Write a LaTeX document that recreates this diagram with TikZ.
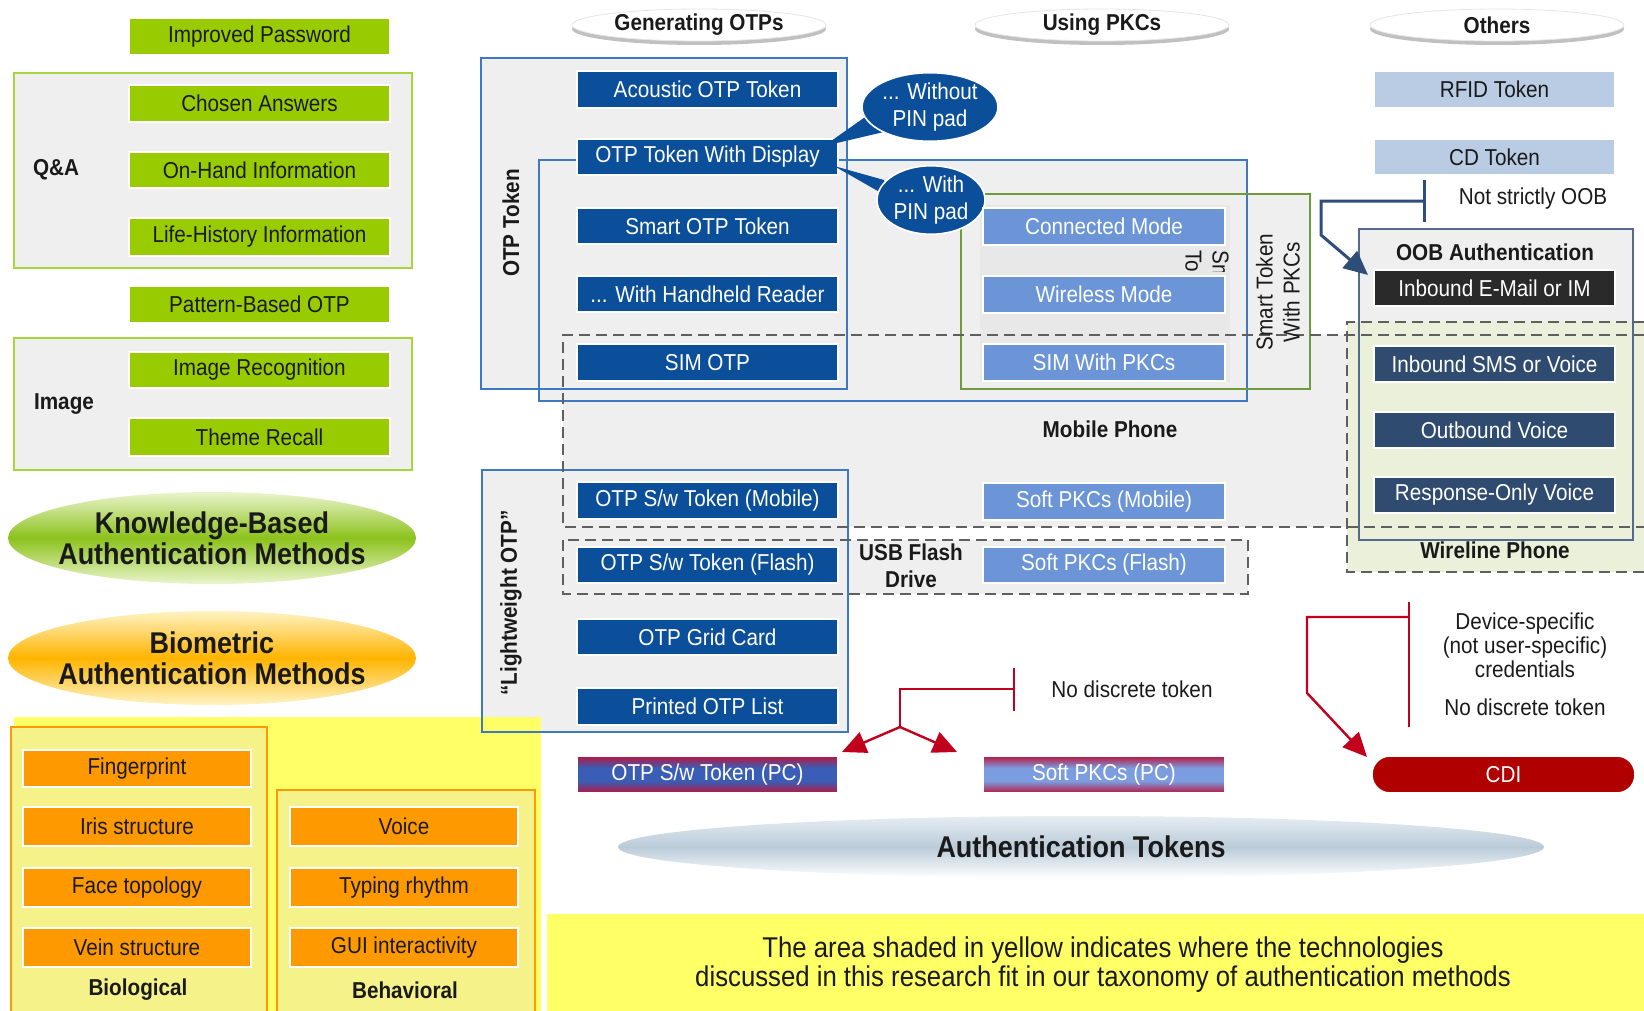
\documentclass[tikz,border=0pt]{standalone}
\usepackage{fontspec}
\setmainfont{Liberation Sans}[FakeStretch=0.9]
\usetikzlibrary{shapes.geometric,arrows.meta,shadows}

\definecolor{kgreen}{HTML}{99CC00}
\definecolor{qagreen}{HTML}{A8D53C}
\definecolor{panel}{HTML}{EFEFEF}
\definecolor{panelb}{HTML}{E8E8E8}
\definecolor{dblue}{HTML}{0B4F9B}
\definecolor{lblue}{HTML}{6B95D6}
\definecolor{frameblue}{HTML}{3D78C1}
\definecolor{greenframe}{HTML}{6E9B3C}
\definecolor{dashgray}{HTML}{5F5F5F}
\definecolor{steel}{HTML}{B9CCE3}
\definecolor{oobdark}{HTML}{2A2A2A}
\definecolor{slate}{HTML}{2F4B70}
\definecolor{oobframe}{HTML}{55698C}
\definecolor{oobline}{HTML}{2E4D78}
\definecolor{wirefill}{HTML}{EAF0DA}
\definecolor{ybg}{HTML}{FFFF66}
\definecolor{palebio}{HTML}{F5F28A}
\definecolor{borange}{HTML}{FF9900}
\definecolor{redline}{HTML}{C0001C}
\definecolor{cdired}{HTML}{B00000}
\definecolor{pcred}{HTML}{B8163E}
\definecolor{pcblue}{HTML}{3A5DB5}
\definecolor{pcbluelight}{HTML}{7C9CE0}
\definecolor{kmid}{HTML}{8CC21C}
\definecolor{kpale}{HTML}{EAF4CC}
\definecolor{bmid}{HTML}{FFB400}
\definecolor{bpale}{HTML}{FFF3C4}
\definecolor{atmid}{HTML}{BACBD8}
\definecolor{atedge}{HTML}{E6EDF3}
\definecolor{txt}{HTML}{1A1A1A}

% red edges, blue body (the path spans 25bp..75bp of the shading)
\pgfdeclareverticalshading{pcdark}{100bp}{color(0bp)=(pcred); color(25bp)=(pcred); color(41bp)=(pcblue); color(59bp)=(pcblue); color(75bp)=(pcred); color(100bp)=(pcred)}
\pgfdeclareverticalshading{pclight}{100bp}{color(0bp)=(pcred); color(25bp)=(pcred); color(41bp)=(pcbluelight); color(59bp)=(pcbluelight); color(75bp)=(pcred); color(100bp)=(pcred)}

\newcommand\bx{\fontsize{11.5}{13.5}\selectfont}
% box given by its two corners (in pixel units of the picture)
\newcommand\tokbox[7]{\node[#2, minimum width={(#5-#3)*0.5pt}, minimum height={(#6-#4)*0.5pt}] (#1) at ({(#3+#5)/2},{(#4+#6)/2}) {#7};}

\tikzset{
  tok/.style={rectangle, inner sep=0pt, draw=white, line width=0.8pt, font=\bx, align=center},
  kbox/.style={tok, fill=kgreen, text=txt},
  obox/.style={tok, fill=borange, text=txt},
  dbox/.style={tok, fill=dblue, text=white},
  lbox/.style={tok, fill=lblue, text=white},
  sbox/.style={tok, fill=steel, text=txt},
  ibox/.style={tok, fill=oobdark, text=white},
  vbox/.style={tok, fill=slate, text=white},
  pcbox/.style={tok, text=white, shading=#1},
  lbl/.style={font=\bx\bfseries, inner sep=0pt, align=center, text=txt},
  note/.style={font=\bx, inner sep=0pt, align=center, text=txt},
  hdr/.style={ellipse, fill=white, draw=black!10, inner sep=0pt, font=\bx\bfseries, text=txt,
    minimum width=127pt, minimum height=16pt,
    drop shadow={shadow xshift=0pt, shadow yshift=-2pt, fill=black!45, opacity=0.55}},
  bubble/.style={ellipse, fill=dblue, draw=white, line width=0.8pt, inner sep=0pt, font=\bx, text=white, align=center},
  qaframe/.style={fill=panel, draw=qagreen, line width=1pt},
  bioframe/.style={fill=palebio, draw=borange, line width=1pt},
  blueframe/.style={draw=frameblue, line width=1.1pt},
  greenbox/.style={draw=greenframe, line width=1pt},
  dashframe/.style={draw=dashgray, line width=1.3pt, dash pattern=on 5.5pt off 3pt},
  redlink/.style={draw=redline, line width=1.2pt},
  redarrow/.style={redlink, -{Triangle[length=12pt,width=11pt]}},
  ooblink/.style={draw=oobline, line width=1.5pt},
  bigoval/.style={ellipse, minimum width=204pt, inner sep=0pt},
  bigtitle/.style={inner sep=0pt, text=txt, font={\fontsize{15}{15.5}\selectfont\bfseries}, align=center},
}

\begin{document}
\begin{tikzpicture}[x=0.5pt, y=-0.5pt]
\useasboundingbox (0,0) rectangle (1644,1011);

% ---------------- knowledge-based methods ----------------
\draw[qaframe] (14,73) rectangle (412,268);
\draw[qaframe] (14,338) rectangle (412,470);
\node[lbl] (qa) at (56,170) {Q\&A};
\node[lbl] (imagelbl) at (64,404) {Image};
\tokbox{impw}{kbox}{129}{18}{390}{55}{Improved Password}
\tokbox{chosen}{kbox}{129}{85}{390}{122}{Chosen Answers}
\tokbox{onhand}{kbox}{129}{152}{390}{188}{On-Hand Information}
\tokbox{lifehist}{kbox}{129}{218}{390}{256}{Life-History Information}
\tokbox{pattern}{kbox}{129}{286}{390}{323}{Pattern-Based OTP}
\tokbox{imgrec}{kbox}{129}{352}{390}{388}{Image Recognition}
\tokbox{theme}{kbox}{129}{418}{390}{456}{Theme Recall}

\node[bigoval, minimum height=46pt, top color=kpale, bottom color=kpale, middle color=kmid] (kba) at (212,538) {};
\node[bigtitle] (kbatext) at (kba) {Knowledge-Based\\Authentication Methods};
\node[bigoval, minimum height=47pt, top color=bpale, bottom color=bpale, middle color=bmid] (bio) at (212,658) {};
\node[bigtitle] (biotext) at (bio) {Biometric\\Authentication Methods};

% ---------------- group fills ----------------
\fill[panel] (481,58) rectangle (847,389);
\fill[panel] (539,160) rectangle (1247,401);
\fill[panel] (961,194) rectangle (1310,389);
\fill[panel] (563,335) rectangle (1644,527);
\fill[panel] (563,540) rectangle (1248,594);
\fill[panel] (482,470) rectangle (848,732);
\fill[panelb] (980,205) rectangle (1230,382);
\fill[panel] (1359,229) rectangle (1633,540);
\fill[wirefill] (1347,322) rectangle (1644,572);

% shaded (yellow) areas
\fill[ybg] (14,717) rectangle (541,1011);
\fill[ybg] (547,914) rectangle (1644,1011);

% ---------------- group frames ----------------
\draw[blueframe] (481,58) rectangle (847,389);
\draw[blueframe] (539,160) rectangle (1247,401);
\draw[greenbox] (961,194) rectangle (1310,389);
\draw[blueframe] (482,470) rectangle (848,732);
\draw[dashframe] (1644,335) -- (563,335) -- (563,527) -- (1644,527);
\draw[dashframe] (563,540) rectangle (1248,594);
\draw[draw=oobframe, line width=1.2pt] (1359,229) rectangle (1633,540);
\draw[dashframe] (1644,322) -- (1347,322) -- (1347,572) -- (1644,572);

% ---------------- biometric methods ----------------
\draw[bioframe] (11,727) rectangle (267,1020);
\draw[bioframe] (277,790) rectangle (535,1020);
\tokbox{finger}{obox}{23}{750}{251}{787}{Fingerprint}
\tokbox{iris}{obox}{23}{807}{251}{846}{Iris structure}
\tokbox{face}{obox}{23}{868}{251}{907}{Face topology}
\tokbox{vein}{obox}{23}{928}{251}{967}{Vein structure}
\tokbox{voice}{obox}{290}{807}{518}{846}{Voice}
\tokbox{typing}{obox}{290}{868}{518}{907}{Typing rhythm}
\tokbox{gui}{obox}{290}{928}{518}{967}{GUI interactivity}
\node[lbl] (biolbl) at (138,990) {Biological};
\node[lbl] (behlbl) at (405,990) {Behavioral};

% ---------------- column headers ----------------
\node[hdr] (hgen) at (699,25) {Generating OTPs};
\node[hdr] (hpkc) at (1102,25) {Using PKCs};
\node[hdr] (hoth) at (1497,25) {Others};

% ---------------- OTP tokens ----------------
\node[lbl, rotate=90] (otplbl) at (511,223) {OTP Token};
\node[lbl, rotate=90] (lwlbl) at (511,603) {“Lightweight OTP”};
\tokbox{acoustic}{dbox}{577}{71}{838}{108}{Acoustic OTP Token}
\tokbox{display}{dbox}{577}{139}{838}{175}{OTP Token With Display}
\tokbox{smartotp}{dbox}{577}{208}{838}{244}{Smart OTP Token}
\tokbox{handheld}{dbox}{577}{276}{838}{312}{... With Handheld Reader}
\tokbox{simotp}{dbox}{577}{344}{838}{381}{SIM OTP}
\tokbox{swmobile}{dbox}{577}{482}{838}{519}{OTP S/w Token (Mobile)}
\tokbox{swflash}{dbox}{577}{547}{838}{583}{OTP S/w Token (Flash)}
\tokbox{grid}{dbox}{577}{619}{838}{655}{OTP Grid Card}
\tokbox{printed}{dbox}{577}{688}{838}{725}{Printed OTP List}
\tokbox{otppc}{pcbox=pcdark}{577}{756}{838}{793}{OTP S/w Token (PC)}

% speech bubbles on the display token
\fill[dblue] (824,146) -- (868,115) -- (888,131) -- cycle;
\node[bubble, minimum width=68pt, minimum height=29pt] (nopin) at (930,107) {... Without\\PIN pad};
\fill[dblue] (834,166) -- (884,180) -- (890,198) -- cycle;
\node[bubble, minimum width=54pt, minimum height=32pt] (withpin) at (931,200) {... With\\PIN pad};

% ---------------- PKC tokens ----------------
\begin{scope}
  \clip (1180,246) rectangle (1235,271);
  \node[note, rotate=-90, anchor=west, align=left] (hiddensmart) at (1207,250) {Smart\\Token};
\end{scope}
\node[note, rotate=90] (smartpkc) at (1278,292) {Smart Token\\With PKCs};
\tokbox{connected}{lbox}{983}{208}{1225}{245}{Connected Mode}
\tokbox{wireless}{lbox}{983}{276}{1225}{313}{Wireless Mode}
\tokbox{simpkc}{lbox}{983}{344}{1225}{381}{SIM With PKCs}
\tokbox{softmobile}{lbox}{983}{483}{1225}{520}{Soft PKCs (Mobile)}
\tokbox{softflash}{lbox}{983}{547}{1225}{583}{Soft PKCs (Flash)}
\tokbox{softpc}{pcbox=pclight}{983}{756}{1225}{793}{Soft PKCs (PC)}

\node[lbl] (mobile) at (1110,429) {Mobile Phone};
\node[lbl] (usb) at (911,566) {USB Flash\\Drive};

% ---------------- other tokens ----------------
\tokbox{rfid}{sbox}{1374}{71}{1615}{108}{RFID Token}
\tokbox{cd}{sbox}{1374}{139}{1615}{175}{CD Token}
\node[lbl] (oob) at (1495,252) {OOB Authentication};
\tokbox{inmail}{ibox}{1374}{270}{1615}{306}{Inbound E-Mail or IM}
\tokbox{insms}{vbox}{1374}{346}{1615}{382}{Inbound SMS or Voice}
\tokbox{outvoice}{vbox}{1374}{412}{1615}{448}{Outbound Voice}
\tokbox{resp}{vbox}{1374}{477}{1615}{513}{Response-Only Voice}
\node[lbl] (wireline) at (1495,550) {Wireline Phone};
\node[tok, fill=cdired, text=white, rounded corners=9pt, minimum width=131.5pt, minimum height=18.5pt] (cdi) at (1503.5,774.5) {CDI};

% not strictly OOB
\coordinate (nsA) at (1424,180);
\coordinate (nsB) at (1424,222);
\coordinate (nsJ) at (1424,201);
\coordinate (nsC) at (1321,201);
\coordinate (nsD) at (1321,235);
\coordinate (nsT) at (1368,275);
\draw[ooblink] (nsA) -- (nsB);
\draw[ooblink, -{Triangle[length=12pt,width=11pt]}] (nsJ) -- (nsC) -- (nsD) -- (nsT);
\node[note] (nsoob) at (1533,199) {Not strictly OOB};

% no discrete token: PC software tokens
\coordinate (ndA) at (1014,668);
\coordinate (ndB) at (1014,711);
\coordinate (ndJ) at (1014,689);
\coordinate (ndC) at (900,689);
\coordinate (ndS) at (900,727);
\coordinate (ndL) at (842,752);
\coordinate (ndR) at (957,752);
\draw[redlink] (ndA) -- (ndB);
\draw[redlink] (ndJ) -- (ndC) -- (ndS);
\draw[redarrow] (ndS) -- (ndL);
\draw[redarrow] (ndS) -- (ndR);
\node[note] (nodisc) at (1132,689) {No discrete token};

% device-specific credentials
\coordinate (cdA) at (1409,602);
\coordinate (cdB) at (1409,727);
\coordinate (cdJ) at (1409,617);
\coordinate (cdC) at (1307,617);
\coordinate (cdD) at (1307,693);
\coordinate (cdT) at (1367,757);
\draw[redlink] (cdA) -- (cdB);
\draw[redarrow] (cdJ) -- (cdC) -- (cdD) -- (cdT);
\node[note, font={\fontsize{11.5}{12}\selectfont}] (devspec) at (1525,645) {Device-specific\\(not user-specific)\\credentials};
\node[note] (nodisc2) at (1525,707) {No discrete token};

% ---------------- footer ----------------
\node[ellipse, minimum width=463pt, minimum height=31pt, inner sep=0pt,
  top color=atedge, bottom color=white, middle color=atmid, text=txt,
  font={\fontsize{15}{17}\selectfont\bfseries}] (authtok) at (1081,847) {Authentication Tokens};
\node[note, font={\fontsize{14.3}{14.5}\selectfont}] (footnote) at (1103,965)
  {The area shaded in yellow indicates where the technologies\\discussed in this research fit in our taxonomy of authentication methods};
\end{tikzpicture}
\end{document}
